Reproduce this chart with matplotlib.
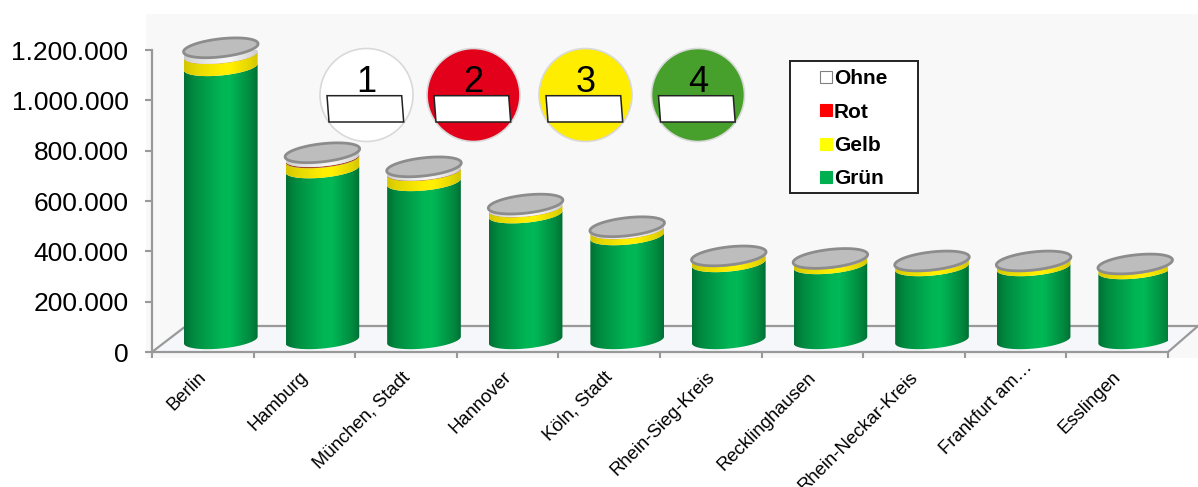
import numpy as np
import matplotlib
matplotlib.use("Agg")
import matplotlib.pyplot as plt
from matplotlib.lines import Line2D
from matplotlib.patches import Circle, Polygon, Rectangle

plt.rcParams['font.family'] = ['Liberation Sans', 'DejaVu Sans']

# Fahrzeuge je Kreis nach Plakette
kreise = ["Berlin", "Hamburg", "München, Stadt", "Hannover", "Köln, Stadt",
          "Rhein-Sieg-Kreis", "Recklinghausen", "Rhein-Neckar-Kreis",
          "Frankfurt am…", "Esslingen"]
gruen = [1085000, 679000, 628000, 500000, 413000, 306000, 298000, 290000, 290000, 278000]
gelb = [48000, 40000, 40000, 24000, 24000, 22000, 20000, 18000, 18000, 18000]
rot = [1000, 5000, 2000, 1000, 1000, 1000, 1000, 1000, 1000, 1000]
ohne = [27000, 20000, 18000, 15000, 12000, 5000, 5000, 5000, 5000, 5000]
serien = [gruen, gelb, rot, ohne]
serien_farben = ["#00B554", "#FFEE00", "#B0502A", "#F4F4F4"]

legende_namen = ["Ohne", "Rot", "Gelb", "Grün"]
legende_farben = ["#FFFFFF", "#FF0000", "#FFFF00", "#00B050"]
y_ticks = [0, 200000, 400000, 600000, 800000, 1000000, 1200000]
y_labels = ["0", "200.000", "400.000", "600.000", "800.000", "1.000.000", "1.200.000"]

plaketten = ["1", "2", "3", "4"]
plaketten_farben = ["#FFFFFF", "#E2001A", "#FFED00", "#48A02C"]
plaketten_x = [366.5, 473.5, 585.5, 698]

W, H = 1198, 487
GRAU = "#999999"

fig = plt.figure(figsize=(W / 100, H / 100), dpi=100, facecolor="white")

# Hintergrund und Plaketten in Pixelkoordinaten
bg = fig.add_axes([0, 0, 1, 1], zorder=0)
bg.set_xlim(0, W)
bg.set_ylim(H, 0)
bg.axis("off")
bg.add_patch(Rectangle((146, 14), W - 146, 344, fc="#F8F8F8", ec="none"))
bg.add_patch(Polygon([(152, 352), (186, 326), (1198, 326), (1168, 352)], fc="#F6F7FA", ec="none"))
bg.plot([152, 186, 1198], [352, 326, 326], color=GRAU, lw=1.6)
bg.plot([1168, 1198], [352, 326], color=GRAU, lw=1.6)

for nr, farbe, cx in zip(plaketten, plaketten_farben, plaketten_x):
    bg.add_patch(Circle((cx, 95), 46.5, fc=farbe, ec="#D9D9D9", lw=1.2))
    bg.add_patch(Polygon([(cx - 39.5, 95.7), (cx + 35.2, 95.7), (cx + 37.2, 122), (cx - 37.5, 122)],
                         fc="white", ec="#222222", lw=1.1))
    bg.text(cx, 92, nr, fontsize=26, ha="center", va="baseline", color="black")

# Hauptdiagramm
ax = fig.add_axes([152 / W, 1 - 352 / H, 1016 / W, 302 / H], zorder=6)
ax.patch.set_alpha(0)
PX_X = 1016 / 10
PX_Y = 302 / 1200000
BASIS = 12 / PX_Y
VERSATZ = 18 / PX_X


def ellipse_xy(cx, v, a, b, t, kipp):
    th = np.radians(kipp)
    x = a * np.cos(t) * np.cos(th) - b * np.sin(t) * np.sin(th)
    y = a * np.cos(t) * np.sin(th) + b * np.sin(t) * np.cos(th)
    return cx + x / PX_X, v + y / PX_Y


def unterer_bogen(cx, v, a=37, b=8.5, kipp=5.5):
    t0 = np.arctan(-(b / a) * np.tan(np.radians(kipp)))
    return ellipse_xy(cx, v, a, b, np.linspace(t0 - np.pi, t0, 60), kipp)


# Helligkeit quer ueber den Zylinder
stellen = np.linspace(0, 1, 120)
schatten = np.interp(stellen, [0, 0.12, 0.5, 0.62, 0.9, 1], [0.62, 0.76, 1.0, 1.02, 0.76, 0.62])

for i in range(len(kreise)):
    cx = i + 0.5 + VERSATZ
    unten = BASIS
    for werte, farbe in zip(serien, serien_farben):
        oben = unten + werte[i]
        x0, y0 = unterer_bogen(cx, unten)
        x1, y1 = unterer_bogen(cx, oben)
        form = Polygon(np.r_[np.c_[x0, y0], np.c_[x1, y1][::-1]], closed=True,
                       transform=ax.transData, fc="none", ec="none")
        rgb = np.array(matplotlib.colors.to_rgb(farbe))
        # Gelb und Weiss werden an den Raendern weniger dunkel
        s = schatten if farbe == serien_farben[0] else 1 - (1 - schatten) * 0.45
        bild = np.clip(rgb[None, None, :] * s[None, :, None], 0, 1)
        im = ax.imshow(bild, extent=(x0.min(), x1.max(), unten - 12 / PX_Y, oben + 12 / PX_Y),
                       aspect="auto", interpolation="bilinear", zorder=3)
        im.set_clip_path(form)
        unten = oben
    # Deckel
    xd, yd = ellipse_xy(cx, unten, 37.5, 9, np.linspace(0, 2 * np.pi, 120), 6.5)
    ax.add_patch(Polygon(np.c_[xd, yd], closed=True, fc="#BDBDBD", ec="#8C8C8C", lw=2, zorder=4,
                         clip_on=False))

ax.set_xlim(0, 10)
ax.set_ylim(0, 1200000)
for name in ["top", "right"]:
    ax.spines[name].set_visible(False)
for name in ["left", "bottom"]:
    ax.spines[name].set_color(GRAU)
    ax.spines[name].set_linewidth(1.6)

ax.set_yticks(y_ticks)
ax.set_yticklabels(y_labels, fontsize=19, color="black")
ax.tick_params(axis="y", length=5, width=1.5, color=GRAU, pad=12)
ax.set_xticks(range(11))
ax.set_xticklabels([])
ax.tick_params(axis="x", which="major", length=4.5, width=1.5, color=GRAU)
# das gekuerzte Frankfurt-Label sitzt im Original weiter rechts und hoeher
label_pos = np.arange(10) + 0.45
label_pos[8] += 0.13
ax.set_xticks(label_pos, minor=True)
ax.set_xticklabels(kreise, minor=True, rotation=45, ha="right", rotation_mode="anchor", fontsize=13.3)
ax.tick_params(axis="x", which="minor", length=0, pad=12)
ax.xaxis.get_minor_ticks()[8].set_pad(5)

# Legende
fig.add_artist(Rectangle((790 / W, 1 - 193 / H), 128 / W, 132 / H, transform=fig.transFigure,
                         fc="white", ec="#222222", lw=1.4, zorder=5))
griffe = [Line2D([], [], ls="none", marker="s", ms=8, mfc=f, mec="#808080" if n == "Ohne" else f, mew=0.8)
          for n, f in zip(legende_namen, legende_farben)]
leg = ax.legend(griffe, legende_namen, loc="upper left", bbox_to_anchor=(808 / W, 1 - 62 / H),
                bbox_transform=fig.transFigure, frameon=False, handlelength=1, handletextpad=-0.1,
                labelspacing=0.69, borderaxespad=0, borderpad=0.35,
                prop={"weight": "bold", "size": 15})
leg.set_zorder(6)

fig.savefig("out.png", dpi=100)
